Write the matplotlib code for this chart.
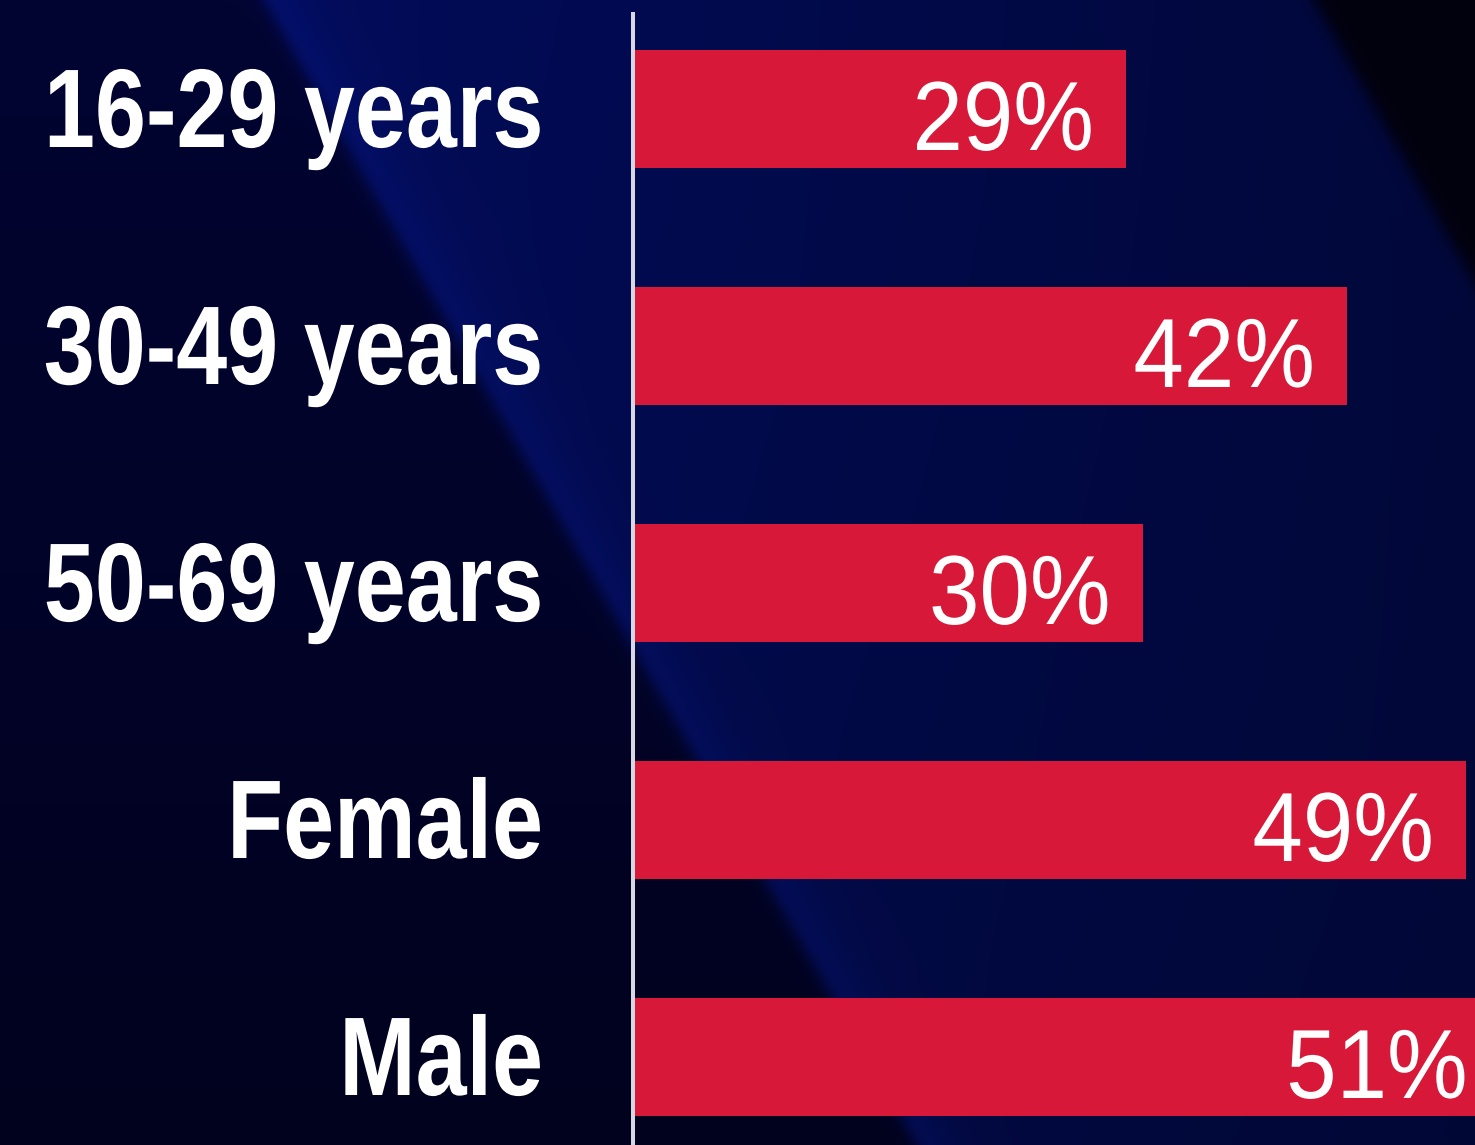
import numpy as np
import matplotlib
matplotlib.use('Agg')
import matplotlib.pyplot as plt
from matplotlib.patheffects import AbstractPathEffect
from matplotlib.transforms import Affine2D

categories = ['16-29 years', '30-49 years', '50-69 years', 'Female', 'Male']
values = [29, 42, 30, 49, 51]
value_labels = ['29%', '42%', '30%', '49%', '51%']

BAR_RED = '#D71838'
FONT = 'Liberation Sans'
W, H = 1475, 1145


# stretch glyphs around the right end of the baseline (fakes a tall condensed face)
class Stretch(AbstractPathEffect):
    def __init__(self, sx=1.0, sy=1.0):
        super().__init__()
        self.sx = sx
        self.sy = sy

    def draw_path(self, renderer, gc, tpath, affine, rgbFace=None):
        right = tpath.get_extents().x1
        st = Affine2D().translate(-right, 0).scale(self.sx, self.sy).translate(right, 0)
        renderer.draw_path(gc, tpath, st + affine, rgbFace)


fig = plt.figure(figsize=(W / 100, H / 100), dpi=100)

# background: dark navy with a diagonal blue band
yy, xx = np.mgrid[0:H, 0:W].astype(float)
d1 = xx - (265 + 0.57 * yy)
d2 = xx - (1313 + 0.57 * yy)
s1 = 1 / (1 + np.exp(-d1 / 5))
s2 = 1 / (1 + np.exp(-d2 / 5))
t = (yy / H)[..., None]

dark = (1 - t) * np.array([2, 4, 50]) + t * np.array([1, 2, 30])
band_base = (1 - t) * np.array([2, 12, 90]) + t * np.array([2, 9, 64])
fade = np.clip(d1 / 1000, 0, 1)[..., None]
band_base = band_base * (1 - 0.3 * fade)
glow = np.exp(-np.clip(d1, 0, None) / 30)[..., None]
band = band_base + glow * np.array([2, 6, 28])
corner = np.array([1, 1, 14])

s1 = s1[..., None]
s2 = s2[..., None]
img = dark * (1 - s1) + s1 * ((1 - s2) * band + s2 * corner)
img = np.clip(img / 255, 0, 1)

bg = fig.add_axes([0, 0, 1, 1], zorder=0)
bg.imshow(img, aspect='auto', interpolation='bilinear')
bg.axis('off')

# bar chart
x0 = 633
ax = fig.add_axes([x0 / W, 0, 1 - x0 / W, 1], zorder=1)
ax.patch.set_alpha(0)
pos = np.arange(len(values))
ax.barh(pos, values, height=0.5, color=BAR_RED)

ax.set_xlim(0, (W - x0) / 17)
ax.set_ylim((H - 109) / 237, -109 / 237)

for side in ['top', 'right', 'bottom']:
    ax.spines[side].set_visible(False)
ax.spines['left'].set_color('#d8d8e2')
ax.spines['left'].set_linewidth(2.9)
ax.spines['left'].set_bounds((H - 109) / 237, (14 - 109) / 237)
ax.set_xticks([])
ax.set_yticks([])

for i, (cat, v, lab) in enumerate(zip(categories, values, value_labels)):
    ax.annotate(cat, xy=(0, i), xycoords=('axes fraction', 'data'),
                xytext=(-90, -38), textcoords='offset pixels',
                ha='right', va='baseline', color='white',
                fontsize=66, fontweight='bold', family=FONT,
                annotation_clip=False, path_effects=[Stretch(1.0, 1.22)])
    ax.annotate(lab, xy=(v, i), xycoords='data',
                xytext=(-32, -41), textcoords='offset pixels',
                ha='right', va='baseline', color='white',
                fontsize=68, family=FONT, annotation_clip=False,
                path_effects=[Stretch(0.96, 1.04)])

fig.savefig('out.png', dpi=100)
